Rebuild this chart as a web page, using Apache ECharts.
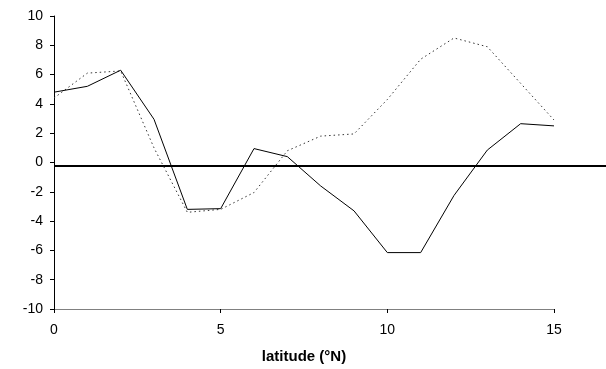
<!DOCTYPE html>
<html>
<head>
<meta charset="utf-8">
<script src="https://cdn.jsdelivr.net/npm/echarts@6/dist/echarts.min.js"></script>
<style>
  html, body { margin: 0; padding: 0; background: #fff; }
  #chart { width: 606px; height: 369px; }
</style>
</head>
<body>
<div id="chart"></div>
<script>
// data
const latitudes = [0, 1, 2, 3, 4, 5, 6, 7, 8, 9, 10, 11, 12, 13, 14, 15]
const solidValues = [4.8, 5.2, 6.3, 2.95, -3.2, -3.15, 0.95, 0.4, -1.6, -3.3, -6.15, -6.15, -2.25, 0.85, 2.65, 2.5]
const dottedValues = [4.4, 6.1, 6.25, 1.0, -3.4, -3.2, -2.05, 0.8, 1.8, 1.95, 4.3, 7.05, 8.5, 7.9, 5.4, 2.9]
const refLevel = -0.17
const xRange = [0, 15]
const yRange = [-10, 10]

const chart = echarts.init(document.getElementById('chart'))

const font = 'Liberation Sans, Arial, sans-serif'

chart.setOption({
  animation: false,
  grid: [
    { left: 54, right: 52, top: 16, bottom: 58 },
    // wider grid so the reference line runs to the right edge
    { left: 54, right: 0, top: 16, bottom: 58 }
  ],
  xAxis: [
    {
      type: 'value',
      gridIndex: 0,
      min: xRange[0],
      max: xRange[1],
      interval: 5,
      name: 'latitude (°N)',
      nameLocation: 'middle',
      nameGap: 40,
      nameTextStyle: { fontFamily: font, fontSize: 15, fontWeight: 'bold', color: '#000' },
      axisLine: { onZero: false, lineStyle: { color: '#808080', width: 1 } },
      axisTick: { length: 4, lineStyle: { color: '#000' } },
      axisLabel: { fontFamily: font, fontSize: 14, color: '#000', margin: 14 },
      splitLine: { show: false }
    },
    {
      type: 'value',
      gridIndex: 1,
      min: 0,
      max: 1,
      show: false
    }
  ],
  yAxis: [
    {
      type: 'value',
      gridIndex: 0,
      min: yRange[0],
      max: yRange[1],
      interval: 2,
      axisLine: { show: true, lineStyle: { color: '#000', width: 1 } },
      axisTick: { show: true, length: 4, lineStyle: { color: '#000' } },
      axisLabel: { fontFamily: font, fontSize: 14, color: '#000', margin: 11 },
      splitLine: { show: false }
    },
    {
      type: 'value',
      gridIndex: 1,
      min: yRange[0],
      max: yRange[1],
      show: false
    }
  ],
  series: [
    {
      type: 'line',
      xAxisIndex: 1,
      yAxisIndex: 1,
      data: [[0, refLevel], [1, refLevel]],
      symbol: 'none',
      lineStyle: { color: '#000', width: 2 },
      silent: true
    },
    {
      type: 'line',
      data: latitudes.map((x, i) => [x, dottedValues[i]]),
      symbol: 'none',
      lineStyle: { color: '#333', width: 1, type: [1.5, 3] }
    },
    {
      type: 'line',
      data: latitudes.map((x, i) => [x, solidValues[i]]),
      symbol: 'none',
      lineStyle: { color: '#000', width: 1 }
    }
  ]
})
</script>
</body>
</html>
